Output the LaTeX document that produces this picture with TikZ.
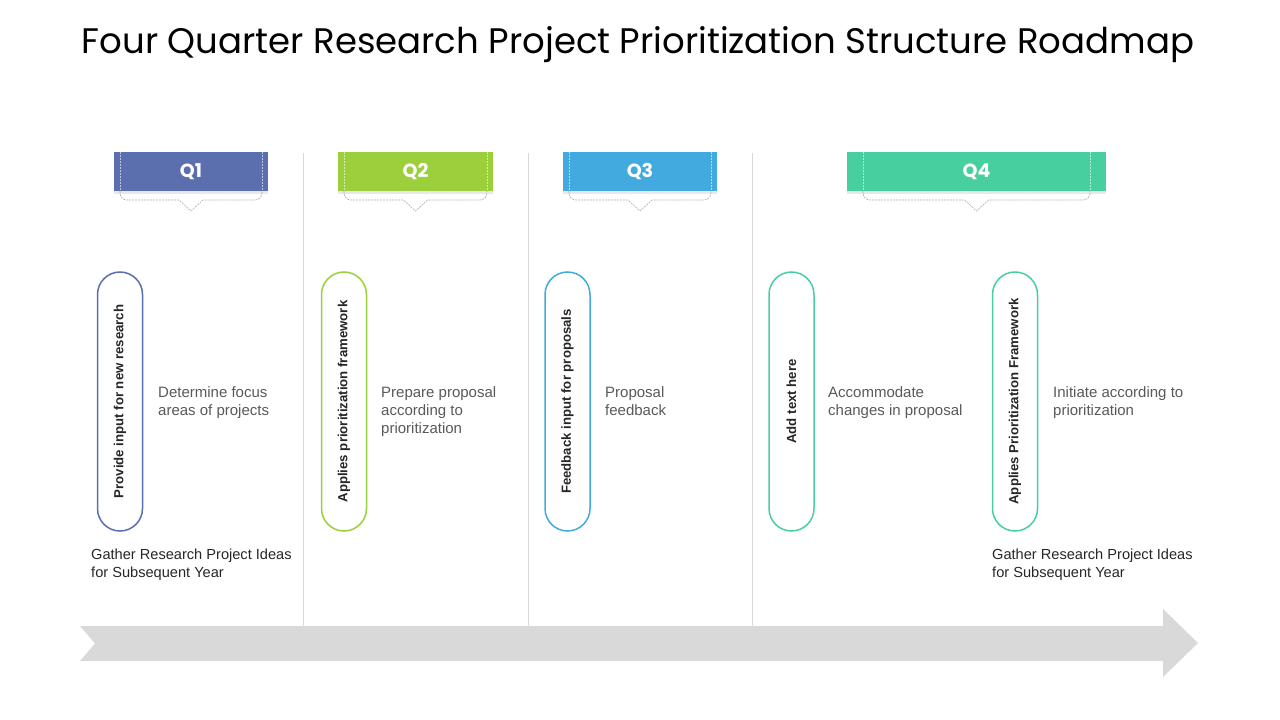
\documentclass[tikz,border=0pt]{standalone}
\usepackage{fontspec}
\setmainfont{Liberation Sans}
\newfontfamily\titlefont{Poppins}
\usetikzlibrary{shadows}
\definecolor{qone}{HTML}{5B6FAE}
\definecolor{qtwo}{HTML}{9BCF3C}
\definecolor{qthree}{HTML}{42AADE}
\definecolor{qfour}{HTML}{48CFA0}
\definecolor{arrowgray}{HTML}{D9D9D9}
\definecolor{sepgray}{HTML}{D9D9D9}
\definecolor{desc}{HTML}{595959}
\definecolor{dark}{HTML}{262626}
\tikzset{
  qbox/.style={minimum height=39pt, inner sep=0pt, text=white, font=\titlefont\bfseries\fontsize{19}{21}\selectfont,
     drop shadow={shadow xshift=0pt, shadow yshift=-3pt, opacity=0.18}},
  pill/.style={rounded corners=22.5pt, line width=1.5pt, fill=white, minimum width=45pt, minimum height=259pt, inner sep=0pt},
  pilltext/.style={rotate=90, font=\bfseries\fontsize{13.2}{15}\selectfont, text=dark},
  desctext/.style={anchor=north west, align=left, font=\fontsize{15}{18}\selectfont, text=desc, inner sep=0pt},
  basetext/.style={anchor=north west, align=left, font=\fontsize{14.6}{18}\selectfont, text=dark, inner sep=0pt},
  sep/.style={draw=sepgray, line width=0.8pt},
  callout/.style={draw=gray!65, dashed, dash pattern=on 2pt off 1pt, line width=0.6pt}
}
\begin{document}
\begin{tikzpicture}[x=1pt,y=-1pt]
\useasboundingbox (0,0) rectangle (1280,720);
% title
\node[font=\titlefont\fontsize{35.5}{40}\selectfont, text=black] (title) at (638,45) {Four Quarter Research Project Prioritization Structure Roadmap};
% separators
\coordinate (s1t) at (303,153); \coordinate (s1b) at (303,627);
\coordinate (s2t) at (528,153); \coordinate (s2b) at (528,627);
\coordinate (s3t) at (752,153); \coordinate (s3b) at (752,627);
\draw[sep] (s1t) -- (s1b);
\draw[sep] (s2t) -- (s2b);
\draw[sep] (s3t) -- (s3b);
% arrow
\fill[arrowgray] (80,626) -- (1163,626) -- (1163,609) -- (1198,643) -- (1163,677) -- (1163,661) -- (80,661) -- (95,643.5) -- cycle;
% quarter boxes with callouts
\foreach \name/\l/\r/\ins/\col/\lab in {qa/114/268/6/qone/Q1, qb/338/493/6/qtwo/Q2, qc/563/717/6/qthree/Q3, qd/847/1106/16/qfour/Q4}{
  \pgfmathsetmacro{\cx}{(\l+\r)/2}
  \pgfmathsetmacro{\w}{\r-\l}
  \pgfmathsetmacro{\a}{\l+\ins}
  \pgfmathsetmacro{\b}{\r-\ins}
  \draw[callout] (\a,152) -- (\a,193) arc[start angle=180, end angle=90, radius=7] -- (\cx-12,200) -- (\cx,211) -- (\cx+12,200) -- (\b-7,200) arc[start angle=90, end angle=0, radius=7] -- (\b,152);
  \node[qbox, fill=\col, minimum width=\w pt] (\name) at (\cx,171.5) {\lab};
  \draw[draw=white, opacity=0.6, dashed, dash pattern=on 2pt off 1pt, line width=0.5pt] (\a,152) -- (\a,191) (\b,152) -- (\b,191);
}
% pills
\node[pill, draw=qone] (p1) at (120,401.5) {};
\node[pilltext] (t1) at (p1) {Provide input for new research};
\node[pill, draw=qtwo] (p2) at (344,401.5) {};
\node[pilltext] (t2) at (p2) {Applies prioritization framework};
\node[pill, draw=qthree] (p3) at (567.5,401.5) {};
\node[pilltext] (t3) at (p3) {Feedback input for proposals};
\node[pill, draw=qfour] (p4) at (791.5,401.5) {};
\node[pilltext] (t4) at (p4) {Add text here};
\node[pill, draw=qfour] (p5) at (1015,401.5) {};
\node[pilltext] (t5) at (p5) {Applies Prioritization Framework};
% descriptions
\node[desctext] (d1) at (158,386) {Determine focus\\areas of projects};
\node[desctext] (d2) at (381,386) {Prepare proposal\\according to\\prioritization};
\node[desctext] (d3) at (605,386) {Proposal\\feedback};
\node[desctext] (d4) at (828,386) {Accommodate\\changes in proposal};
\node[desctext] (d5) at (1053,386) {Initiate according to\\prioritization};
% bottom texts
\node[basetext] (g1) at (91,549) {Gather Research Project Ideas\\for Subsequent Year};
\node[basetext] (g2) at (992,549) {Gather Research Project Ideas\\for Subsequent Year};
\end{tikzpicture}
\end{document}
